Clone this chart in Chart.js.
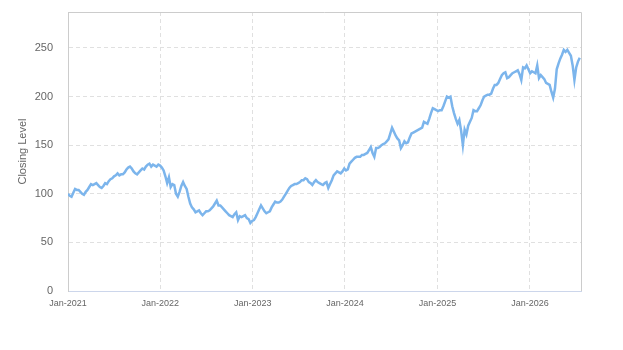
<!DOCTYPE html>
<html>
<head>
<meta charset="utf-8">
<script src="https://cdn.jsdelivr.net/npm/chart.js@4.4.1/dist/chart.umd.min.js"></script>
<style>
  html, body { margin: 0; padding: 0; background: #fff; }
  #wrap { width: 623px; height: 350px; }
</style>
</head>
<body>
<div id="wrap"><canvas id="lineChart"></canvas></div>
<script>
// weekly closing levels, first value = first week of Jan 2021
const closingLevels = [
    100, 98, 97, 101, 105, 104, 104, 102, 100, 99,
    102, 104, 107, 110, 109, 110, 111, 109, 107, 106,
    108, 111, 110, 113, 115, 116, 118, 119, 121, 119,
    120, 120, 122, 125, 127, 128, 126, 123, 121, 120,
    122, 124, 126, 125, 128, 130, 131, 128, 130, 129,
    128, 130, 129, 127, 124, 118, 111, 117, 107, 110,
    109, 100, 97, 102, 108, 112, 108, 105, 97, 90,
    86, 84, 81, 82, 83, 80, 78, 80, 82, 82,
    83, 85, 87, 90, 93, 88, 88, 86, 84, 82,
    80, 78, 77, 76, 79, 81, 73, 77, 76, 77,
    78, 75, 74, 70, 72, 73, 76, 80, 84, 88,
    85, 82, 80, 81, 82, 86, 89, 92, 91, 91,
    92, 94, 97, 100, 103, 106, 108, 109, 110, 110,
    111, 112, 114, 114, 116, 115, 112, 111, 109, 112,
    114, 112, 111, 110, 109, 111, 112, 106, 110, 114,
    119, 121, 123, 122, 121, 123, 126, 124, 125, 131,
    133, 135, 137, 138, 138, 138, 140, 140, 141, 142,
    145, 148, 142, 138, 147, 147, 148, 150, 151, 152,
    154, 156, 162, 168, 164, 160, 157, 155, 147, 150,
    154, 152, 153, 158, 162, 163, 164, 165, 166, 167,
    168, 174, 173, 172, 177, 183, 188, 187, 186, 185,
    186, 186, 190, 195, 200, 199, 200, 190, 183, 177,
    172, 176, 165, 150, 166, 161, 170, 174, 178, 186,
    185, 185, 188, 191, 196, 200, 201, 202, 202, 203,
    208, 212, 212, 214, 218, 222, 224, 225, 219, 220,
    222, 224, 225, 226, 227, 223, 217, 230, 229, 232,
    228, 224, 226, 225, 224, 232, 219, 222, 220, 218,
    214, 213, 212, 205, 199, 208, 228, 234, 239, 243,
    248, 246, 248, 245, 242, 232, 217, 230, 236, 240
];
const daysPerPoint = 7;
const lastDay = 2028;

// days since 1 Jan 2021
const yearTicks = [0, 365, 730, 1095, 1461, 1826];
const yearLabels = ['Jan-2021', 'Jan-2022', 'Jan-2023', 'Jan-2024', 'Jan-2025', 'Jan-2026'];
const levelTicks = [0, 50, 100, 150, 200, 250];

Chart.defaults.font.family = "'Liberation Sans', Arial, sans-serif";
Chart.defaults.color = '#666';

const boxBorder = {
    id: 'boxBorder',
    beforeDatasetsDraw(chart) {
        const { ctx, chartArea } = chart;
        ctx.save();
        ctx.strokeStyle = '#cccccc';
        ctx.lineWidth = 1;
        ctx.beginPath();
        ctx.moveTo(chartArea.left, chartArea.top + 0.5);
        ctx.lineTo(chartArea.right + 0.5, chartArea.top + 0.5);
        ctx.lineTo(chartArea.right + 0.5, chartArea.bottom);
        ctx.stroke();
        ctx.restore();
    }
};

document.addEventListener("DOMContentLoaded", function () {
    const points = closingLevels.map((v, i) => ({ x: i * daysPerPoint, y: v }));
    const ctx = document.getElementById('lineChart').getContext('2d');
    new Chart(ctx, {
        type: 'line',
        data: {
            datasets: [{
                label: 'Closing Level',
                data: points,
                borderColor: '#7cb5ec',
                borderWidth: 2.5,
                pointRadius: 0,
                tension: 0,
                fill: false
            }]
        },
        options: {
            responsive: true,
            maintainAspectRatio: false,
            animation: false,
            layout: { padding: { top: 12, right: 42, left: 0, bottom: 0 } },
            plugins: {
                legend: { display: false },
                tooltip: { enabled: false }
            },
            scales: {
                x: {
                    type: 'linear',
                    min: 0,
                    max: lastDay,
                    afterBuildTicks: (scale) => {
                        scale.ticks = yearTicks.map(v => ({ value: v }));
                    },
                    afterFit: (scale) => { scale.height = 59; },
                    ticks: {
                        autoSkip: false,
                        maxRotation: 0,
                        padding: 7,
                        font: { size: 9 },
                        callback: (value) => yearLabels[yearTicks.indexOf(value)]
                    },
                    grid: { color: '#e0e0e0', drawTicks: false },
                    border: { color: '#ccd6eb', dash: [4, 3] }
                },
                y: {
                    min: 0,
                    max: 287,
                    afterBuildTicks: (scale) => {
                        scale.ticks = levelTicks.map(v => ({ value: v }));
                    },
                    afterFit: (scale) => {
                        scale.width = 68;
                        scale.paddingTop = 0;
                        scale.paddingBottom = 0;
                    },
                    ticks: { padding: 15, font: { size: 11 } },
                    grid: { color: '#e0e0e0', drawTicks: false },
                    border: { color: '#cccccc', dash: [4, 3] },
                    title: {
                        display: true,
                        text: 'Closing Level',
                        font: { size: 11 },
                        padding: { top: 16, bottom: 0 }
                    }
                }
            }
        },
        plugins: [boxBorder]
    });
});
</script>
</body>
</html>
